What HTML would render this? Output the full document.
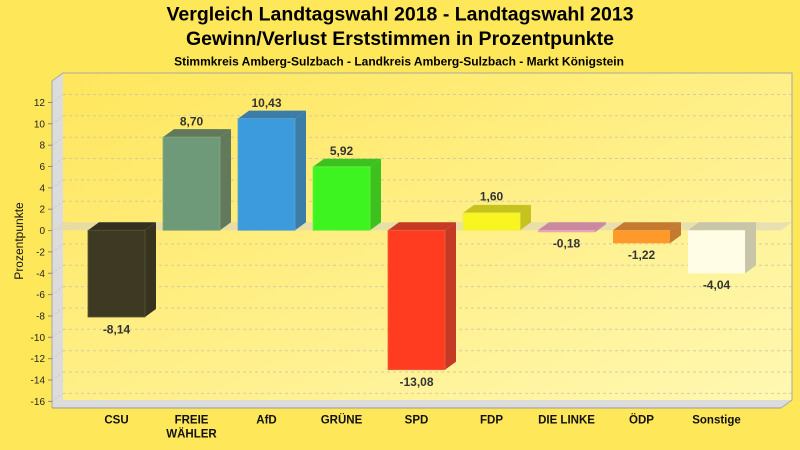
<!DOCTYPE html>
<html>
<head>
<meta charset="utf-8">
<style>
html,body{margin:0;padding:0;background:#FFE75A;}
svg{display:block;}
text{font-family:"Liberation Sans",Arial,sans-serif;}
</style>
</head>
<body>
<svg width="800" height="450" viewBox="0 0 800 450" xmlns="http://www.w3.org/2000/svg">
<defs>
<linearGradient id="bg" x1="0" y1="0" x2="1" y2="1">
<stop offset="0" stop-color="#FFE65C"/>
<stop offset="1" stop-color="#FFF8B2"/>
</linearGradient>
</defs>
<rect x="0" y="0" width="800" height="450" fill="#FFE75A"/>

<!-- Titles -->
<text x="400" y="20.5" font-size="19.5" font-weight="bold" text-anchor="middle" fill="#000">Vergleich Landtagswahl 2018 - Landtagswahl 2013</text>
<text x="400" y="45" font-size="19.5" font-weight="bold" text-anchor="middle" fill="#000">Gewinn/Verlust Erststimmen in Prozentpunkte</text>
<text x="399" y="65.5" font-size="12" font-weight="bold" text-anchor="middle" fill="#000">Stimmkreis Amberg-Sulzbach - Landkreis Amberg-Sulzbach - Markt Königstein</text>

<!-- back wall -->
<rect x="63" y="73" width="729" height="327" fill="url(#bg)"/>
<!-- left wall -->
<polygon points="52,81 63,73 63,400 52,408" fill="#DCDCDC"/>
<!-- floor -->
<polygon points="52,408 63,400 792,400 781,408" fill="#DCDCDC"/>

<!-- gridlines -->
<g stroke="#C9C4A6" stroke-width="1" stroke-dasharray="3,3" fill="none" opacity="0.8">
<line x1="63" y1="94.5" x2="792" y2="94.5"/>
<line x1="63" y1="115.8" x2="792" y2="115.8"/>
<line x1="63" y1="137.2" x2="792" y2="137.2"/>
<line x1="63" y1="158.5" x2="792" y2="158.5"/>
<line x1="63" y1="179.9" x2="792" y2="179.9"/>
<line x1="63" y1="201.2" x2="792" y2="201.2"/>
<line x1="63" y1="243.9" x2="792" y2="243.9"/>
<line x1="63" y1="265.3" x2="792" y2="265.3"/>
<line x1="63" y1="286.6" x2="792" y2="286.6"/>
<line x1="63" y1="308" x2="792" y2="308"/>
<line x1="63" y1="329.3" x2="792" y2="329.3"/>
<line x1="63" y1="350.7" x2="792" y2="350.7"/>
<line x1="63" y1="372" x2="792" y2="372"/>
<line x1="63" y1="393.4" x2="792" y2="393.4"/>
</g>
<g stroke="#C8C8C8" stroke-width="1" stroke-dasharray="2,2" fill="none">
<line x1="52" y1="102.5" x2="63" y2="94.5"/>
<line x1="52" y1="123.8" x2="63" y2="115.8"/>
<line x1="52" y1="145.2" x2="63" y2="137.2"/>
<line x1="52" y1="166.5" x2="63" y2="158.5"/>
<line x1="52" y1="187.9" x2="63" y2="179.9"/>
<line x1="52" y1="209.2" x2="63" y2="201.2"/>
<line x1="52" y1="251.9" x2="63" y2="243.9"/>
<line x1="52" y1="273.3" x2="63" y2="265.3"/>
<line x1="52" y1="294.6" x2="63" y2="286.6"/>
<line x1="52" y1="316" x2="63" y2="308"/>
<line x1="52" y1="337.3" x2="63" y2="329.3"/>
<line x1="52" y1="358.7" x2="63" y2="350.7"/>
<line x1="52" y1="380" x2="63" y2="372"/>
<line x1="52" y1="401.4" x2="63" y2="393.4"/>
</g>

<!-- zero band -->
<polygon points="52,230.3 63,222.3 792,222.3 781,230.3" fill="#D8D4C0" opacity="0.6"/>

<!-- outlines -->
<g stroke="#A8A8A8" stroke-width="1" fill="none">
<polyline points="52,408 52,81 63,73 792,73 792,400 781,408 52,408"/>
</g>
<line x1="52" y1="408" x2="781" y2="408" stroke="#999" stroke-width="1"/>

<!-- Bars -->
<!-- CSU -8.14 -->
<polygon points="88,230.3 145,230.3 156,222.3 99,222.3" fill="#333020"/>
<polygon points="145,230.3 156,222.3 156,309 145,317" fill="#37331E"/>
<rect x="88" y="230.3" width="57" height="86.7" fill="#3D3922" stroke="#5a5535" stroke-width="0.8"/>
<!-- FREIE WÄHLER 8.70 -->
<polygon points="163,137.1 220,137.1 231,129.1 174,129.1" fill="#61785A"/>
<polygon points="220,137.1 231,129.1 231,222.3 220,230.3" fill="#62795C"/>
<rect x="163" y="137.1" width="57" height="93.2" fill="#6F9A7A" stroke="#86a878" stroke-width="0.8"/>
<!-- AfD 10.43 -->
<polygon points="238,118.6 295,118.6 306,110.6 249,110.6" fill="#3B7DA8"/>
<polygon points="295,118.6 306,110.6 306,222.3 295,230.3" fill="#3B7DA8"/>
<rect x="238" y="118.6" width="57" height="111.7" fill="#3C9BDD" stroke="#5aa8c8" stroke-width="0.8"/>
<!-- GRÜNE 5.92 -->
<polygon points="313,166.8 370,166.8 381,158.8 324,158.8" fill="#3CC21E"/>
<polygon points="370,166.8 381,158.8 381,222.3 370,230.3" fill="#3CC21E"/>
<rect x="313" y="166.8" width="57" height="63.5" fill="#3EF420" stroke="#70f040" stroke-width="0.8"/>
<!-- SPD -13.08 -->
<polygon points="388,230.3 445,230.3 456,222.3 399,222.3" fill="#C43A24"/>
<polygon points="445,230.3 456,222.3 456,361.7 445,369.7" fill="#C43A24"/>
<rect x="388" y="230.3" width="57" height="139.4" fill="#FF3C20" stroke="#f06040" stroke-width="0.8"/>
<!-- FDP 1.60 -->
<polygon points="463,212.9 520,212.9 531,204.9 474,204.9" fill="#C6C21E"/>
<polygon points="520,212.9 531,204.9 531,222.3 520,230.3" fill="#C6C21E"/>
<rect x="463" y="212.9" width="57" height="17.4" fill="#F9F520" stroke="#f0ee50" stroke-width="0.8"/>
<!-- DIE LINKE -0.18 -->
<polygon points="538,230.3 595,230.3 606,222.3 549,222.3" fill="#C98AA0"/>
<polygon points="595,230.3 606,222.3 606,224.2 595,232.2" fill="#C98AA0"/>
<rect x="538" y="230.3" width="57" height="2" fill="#F0A0B8"/>
<!-- ÖDP -1.22 -->
<polygon points="613,230.3 670,230.3 681,222.3 624,222.3" fill="#C47A30"/>
<polygon points="670,230.3 681,222.3 681,235.3 670,243.3" fill="#C47A30"/>
<rect x="613" y="230.3" width="57" height="13" fill="#FF9A2A"/>
<!-- Sonstige -4.04 -->
<polygon points="688,230.3 745,230.3 756,222.3 699,222.3" fill="#C9C5A9"/>
<polygon points="745,230.3 756,222.3 756,265.4 745,273.4" fill="#C9C5A9"/>
<rect x="688" y="230.3" width="57" height="43.1" fill="#FFFDE6"/>

<!-- value labels -->
<g font-size="12" font-weight="bold" fill="#333" text-anchor="middle">
<text x="116.5" y="333.5">-8,14</text>
<text x="191.5" y="125.5">8,70</text>
<text x="266.5" y="107">10,43</text>
<text x="341.5" y="155">5,92</text>
<text x="416.5" y="386">-13,08</text>
<text x="491.5" y="200.5">1,60</text>
<text x="566.5" y="247.5">-0,18</text>
<text x="641.5" y="259">-1,22</text>
<text x="716.5" y="289">-4,04</text>
</g>

<!-- y ticks -->
<g stroke="#888" stroke-width="1">
<line x1="48" y1="102.5" x2="52" y2="102.5"/>
<line x1="48" y1="123.8" x2="52" y2="123.8"/>
<line x1="48" y1="145.2" x2="52" y2="145.2"/>
<line x1="48" y1="166.5" x2="52" y2="166.5"/>
<line x1="48" y1="187.9" x2="52" y2="187.9"/>
<line x1="48" y1="209.2" x2="52" y2="209.2"/>
<line x1="48" y1="230.6" x2="52" y2="230.6"/>
<line x1="48" y1="251.9" x2="52" y2="251.9"/>
<line x1="48" y1="273.3" x2="52" y2="273.3"/>
<line x1="48" y1="294.6" x2="52" y2="294.6"/>
<line x1="48" y1="316" x2="52" y2="316"/>
<line x1="48" y1="337.3" x2="52" y2="337.3"/>
<line x1="48" y1="358.7" x2="52" y2="358.7"/>
<line x1="48" y1="380" x2="52" y2="380"/>
<line x1="48" y1="401.4" x2="52" y2="401.4"/>
</g>
<g font-size="10" fill="#222" text-anchor="end">
<text x="45" y="106">12</text>
<text x="45" y="127.3">10</text>
<text x="45" y="148.7">8</text>
<text x="45" y="170">6</text>
<text x="45" y="191.4">4</text>
<text x="45" y="212.7">2</text>
<text x="45" y="234.1">0</text>
<text x="45" y="255.4">-2</text>
<text x="45" y="276.8">-4</text>
<text x="45" y="298.1">-6</text>
<text x="45" y="319.5">-8</text>
<text x="45" y="340.8">-10</text>
<text x="45" y="362.2">-12</text>
<text x="45" y="383.5">-14</text>
<text x="45" y="404.9">-16</text>
</g>

<!-- y axis label -->
<text x="0" y="0" font-size="12" fill="#111" text-anchor="middle" transform="translate(23,241) rotate(-90)">Prozentpunkte</text>

<!-- category labels -->
<g font-size="11.5" font-weight="bold" fill="#111" text-anchor="middle">
<text x="116.5" y="423.5">CSU</text>
<text x="191.5" y="423.5">FREIE</text>
<text x="191.5" y="437.5">WÄHLER</text>
<text x="266.5" y="423.5">AfD</text>
<text x="341.5" y="423.5">GRÜNE</text>
<text x="416.5" y="423.5">SPD</text>
<text x="491.5" y="423.5">FDP</text>
<text x="566.5" y="423.5">DIE LINKE</text>
<text x="641.5" y="423.5">ÖDP</text>
<text x="716.5" y="423.5">Sonstige</text>
</g>
</svg>
</body>
</html>
